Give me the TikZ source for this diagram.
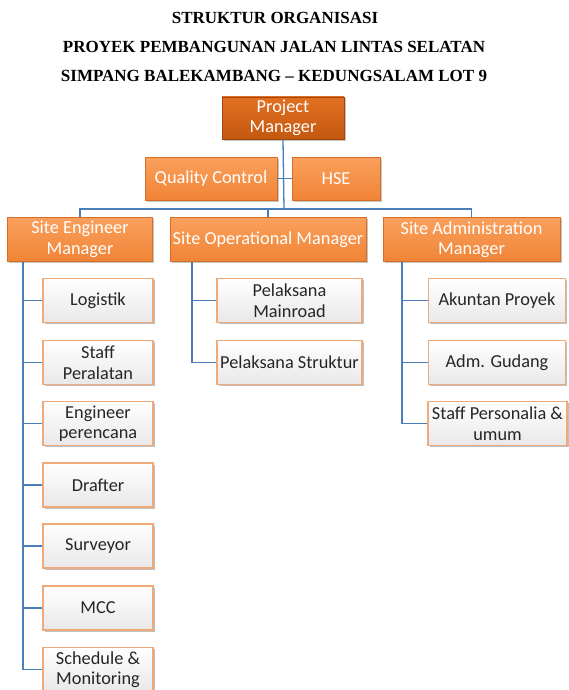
\documentclass[tikz,border=0pt]{standalone}
\usepackage{fontspec}
\setmainfont{Liberation Serif}
\newfontfamily\boxfont{Carlito}
\usepackage{tikz}
\usetikzlibrary{
    positioning,
    shadows
}
\definecolor{linkBlue}{RGB}{74, 126, 187}
\definecolor{pmTop}{RGB}{226, 112, 34}
\definecolor{pmBottom}{RGB}{196, 88, 16}
\definecolor{pmEdge}{RGB}{160, 70, 12}
\definecolor{headTop}{RGB}{250, 160, 92}
\definecolor{headBottom}{RGB}{240, 132, 54}
\definecolor{headEdge}{RGB}{214, 110, 40}
\definecolor{staffEdge}{RGB}{240, 170, 120}
\definecolor{staffText}{RGB}{38, 38, 38}

\begin{document}
\begin{tikzpicture}[x=1pt, y=-1pt,
    title/.style={font=\bfseries\fontsize{17}{19}\selectfont},
    pmbox/.style={draw=pmEdge, line width=0.8pt, top color=pmTop, bottom color=pmBottom,
        text=white, align=center, inner sep=0pt, minimum height=42pt,
        font=\boxfont\fontsize{18.3}{20.5}\selectfont,
        drop shadow={shadow xshift=1.5pt, shadow yshift=-1.5pt, opacity=0.45}},
    headbox/.style={pmbox, draw=headEdge, top color=headTop, bottom color=headBottom,
        minimum height=44pt},
    staffbox/.style={draw=staffEdge, line width=1.1pt, top color=white, bottom color=black!9,
        text=staffText, align=center, inner sep=0pt, minimum height=44pt,
        font=\boxfont\fontsize{18.3}{20.5}\selectfont,
        drop shadow={shadow xshift=1.8pt, shadow yshift=-1.5pt, opacity=0.5}},
    link/.style={draw=linkBlue, line width=1.3pt}
]
    \useasboundingbox (0,0) rectangle (568,690);

    \node[title] (t1) at (275,18) {STRUKTUR ORGANISASI};
    \node[title] (t2) at (274,47) {PROYEK PEMBANGUNAN JALAN LINTAS SELATAN};
    \node[title] (t3) at (274,76) {SIMPANG BALEKAMBANG -- KEDUNGSALAM LOT 9};

    \node[pmbox, minimum width=122pt] (pm) at (283,118) {Project\\Manager};
    \node[headbox, minimum width=132pt, minimum height=43pt] (qc) at (211,178.5) {Quality Control};
    \node[headbox, minimum width=88pt, minimum height=43pt] (hse) at (336,178.5) {HSE};

    \node[headbox, minimum width=145pt] (sem) at (80,239.5) {Site Engineer\\Manager};
    \node[headbox, minimum width=196pt] (som) at (268,239.5) {Site Operational Manager};
    \node[headbox, minimum width=177pt] (sam) at (471.5,239.5) {Site Administration\\Manager};

    % engineering
    \node[staffbox, minimum width=110pt] (logistik) at (98,300.5) {Logistik};
    \node[staffbox, minimum width=110pt] (peralatan) at (98,362.5) {Staff\\Peralatan};
    \node[staffbox, minimum width=110pt] (perencana) at (98,423.5) {Engineer\\perencana};
    \node[staffbox, minimum width=110pt] (drafter) at (98,485) {Drafter};
    \node[staffbox, minimum width=110pt] (surveyor) at (98,546) {Surveyor};
    \node[staffbox, minimum width=110pt] (mcc) at (98,608) {MCC};
    \node[staffbox, minimum width=110pt] (schedule) at (98,669.5) {Schedule \&\\Monitoring};

    % operational
    \node[staffbox, minimum width=145pt] (mainroad) at (289.5,300.5) {Pelaksana\\Mainroad};
    \node[staffbox, minimum width=145pt] (struktur) at (289.5,362.5) {Pelaksana Struktur};

    % administration
    \node[staffbox, minimum width=137pt] (akuntan) at (497,300.5) {Akuntan Proyek};
    \node[staffbox, minimum width=137pt] (gudang) at (497,362.5) {Adm. Gudang};
    \node[staffbox, minimum width=139pt] (personalia) at (497.5,423.5) {Staff Personalia \&\\umum};

    \coordinate (bar) at (284,209);
    \coordinate (e0) at (23,262); % engineer trunk
    \coordinate (o0) at (192,262);
    \coordinate (a0) at (402,262);

    \draw[link] (pm.south) -- (bar);
    \draw[link] (qc.east) -- (hse.west);
    \draw[link] (bar) -| (sem.north);
    \draw[link] (bar) -| (som.north);
    \draw[link] (bar) -| (sam.north);

    \foreach \n in {logistik, peralatan, perencana, drafter, surveyor, mcc, schedule}
        \draw[link] (e0) |- (\n.west);
    \foreach \n in {mainroad, struktur}
        \draw[link] (o0) |- (\n.west);
    \foreach \n in {akuntan, gudang, personalia}
        \draw[link] (a0) |- (\n.west);
\end{tikzpicture}
\end{document}
